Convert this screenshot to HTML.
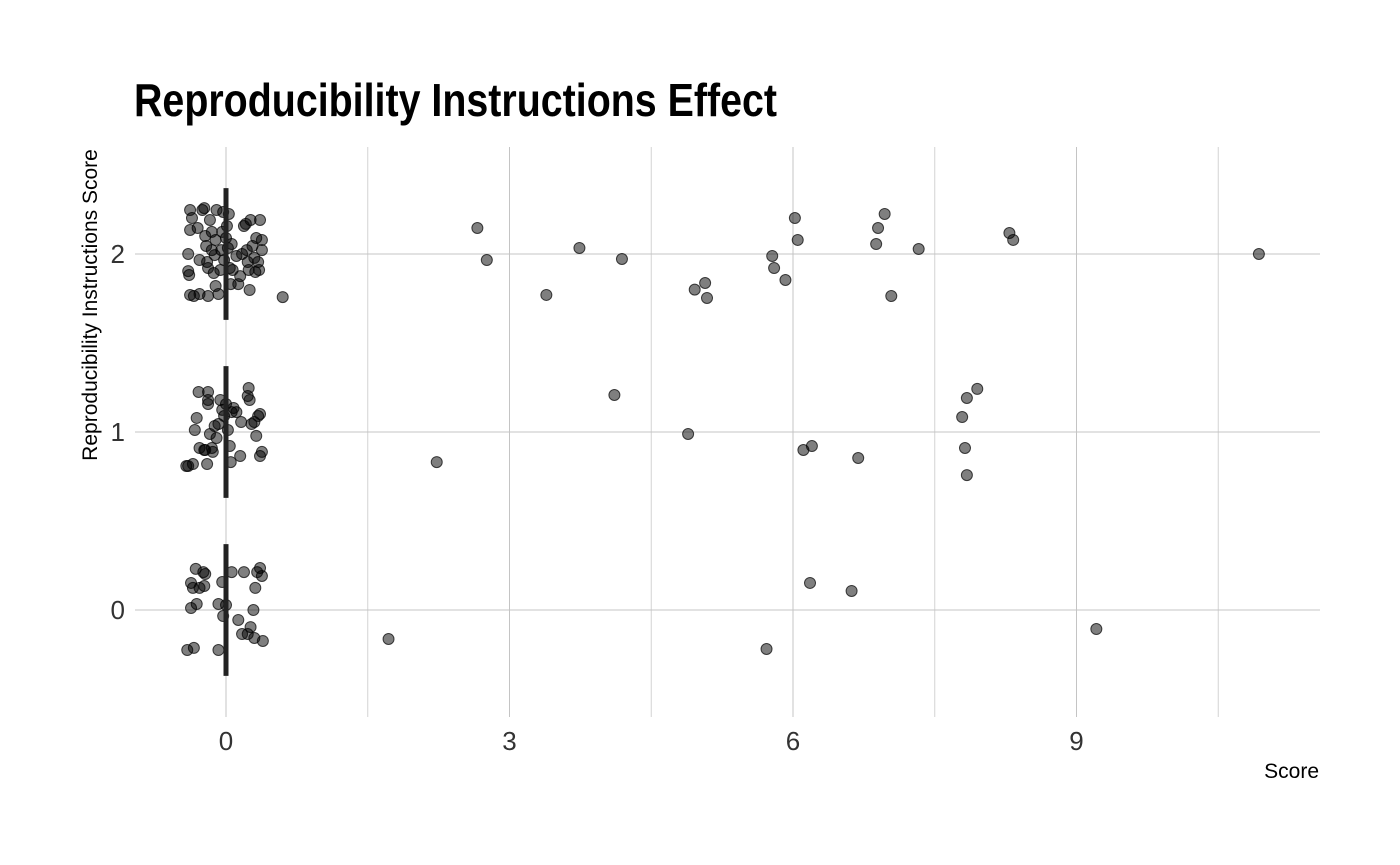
<!DOCTYPE html>
<html><head><meta charset="utf-8"><style>
html,body{margin:0;padding:0;background:#fff;}
svg{display:block;font-family:"Liberation Sans Narrow","Liberation Sans",sans-serif;}
</style></head><body>
<svg id="chart" width="1400" height="865" viewBox="0 0 1400 865">
<text x="134" y="116" font-size="46" font-weight="bold" fill="#000" textLength="643" lengthAdjust="spacingAndGlyphs">Reproducibility Instructions Effect</text>
<g id="grid"></g>
<g id="marks"></g>
<g id="ticks"></g>
<text x="97" y="305" font-size="21" fill="#000" transform="rotate(-90 97 305)" text-anchor="middle">Reproducibility Instructions Score</text>
<text x="1319" y="778" font-size="21" fill="#000" text-anchor="end">Score</text>
</svg>
<script>
const xTicks=[0,3,6,9];
const xMinor=[1.5,4.5,7.5,10.5];
const yTicks=[0,1,2];
const groups=[0,1,2];
const groupMedian=[0,0,0];
// scattered points (score, jittered group value)
const ptX=[2.66,2.76,3.74,4.19,3.39,4.96,5.07,5.09,5.78,5.80,5.92,6.02,6.05,6.97,6.90,6.88,7.33,7.04,8.29,8.33,10.93,0.60,
4.11,4.89,2.23,6.11,6.20,6.69,7.95,7.84,7.79,7.82,7.84,
1.72,5.72,6.18,6.62,9.21];
const ptY=[2.146,1.966,2.034,1.972,1.77,1.80,1.837,1.753,1.989,1.921,1.854,2.202,2.079,2.225,2.146,2.056,2.028,1.764,2.118,2.079,2.0,1.758,
1.208,0.989,0.831,0.899,0.921,0.854,1.242,1.191,1.084,0.910,0.758,
-0.163,-0.219,0.152,0.107,-0.107];
// cluster points near score 0 (jittered)
const c0X=[-0.37,-0.35,-0.32,-0.24,-0.22,-0.28,-0.31,-0.37,-0.23,-0.08,-0.04,0.00,-0.03,0.06,0.13,0.19,0.17,0.23,0.26,0.29,0.31,0.33,0.36,0.38,0.39,0.30,-0.41,-0.08,-0.34];
const c0Y=[0.152,0.124,0.231,0.213,0.202,0.124,0.034,0.011,0.135,0.034,0.157,0.028,-0.034,0.213,-0.056,0.213,-0.135,-0.135,-0.096,0.0,0.124,0.213,0.236,0.191,-0.174,-0.157,-0.225,-0.225,-0.213];
const c1X=[-0.40,-0.35,-0.33,-0.31,-0.29,-0.28,-0.22,-0.20,-0.19,-0.19,-0.17,-0.15,-0.14,-0.12,-0.10,-0.08,-0.06,-0.04,-0.02,0.0,0.02,0.04,0.06,0.08,0.05,0.11,0.15,0.16,0.23,0.25,0.27,0.30,0.32,0.34,0.36,0.38,0.36,0.24,-0.19,-0.23,-0.42];
const c1Y=[0.809,0.820,1.011,1.079,1.225,0.910,0.899,0.820,1.180,1.157,0.989,0.910,0.888,1.034,0.966,1.045,1.180,1.124,1.090,1.157,1.011,0.921,1.112,1.135,0.831,1.112,0.865,1.056,1.202,1.180,1.045,1.056,0.978,1.090,0.865,0.888,1.101,1.247,1.225,0.899,0.809];
const c2X=[-0.38,-0.36,-0.38,-0.40,-0.40,-0.39,-0.38,-0.30,-0.28,-0.25,-0.23,-0.22,-0.21,-0.20,-0.19,-0.19,-0.17,-0.15,-0.13,-0.12,-0.11,-0.11,-0.10,-0.08,-0.06,-0.05,-0.04,-0.03,-0.02,0.0,0.01,0.02,0.03,0.04,0.05,0.06,0.07,0.11,0.13,0.15,0.17,0.19,0.21,0.22,0.23,0.24,0.25,0.26,0.28,0.30,0.31,0.34,0.35,0.36,0.38,0.38,0.32,-0.34,-0.28,-0.15];
const c2Y=[2.247,2.202,2.135,2.0,1.904,1.882,1.770,2.146,1.775,2.247,2.258,2.101,2.045,1.955,1.921,1.764,2.191,2.124,1.893,1.994,2.079,1.820,2.247,1.775,1.910,2.022,2.124,2.236,1.966,2.090,2.157,2.034,2.225,1.921,1.831,2.056,1.910,1.989,1.831,1.876,2.0,2.157,2.169,2.022,1.955,1.910,1.798,2.191,2.045,1.978,1.899,1.955,1.910,2.191,2.079,2.022,2.090,1.764,1.966,2.022];

const NS='http://www.w3.org/2000/svg';
const L=135,R=1320,T=147,B=717;
const xs=v=>226+v*94.5;
const ys=v=>610-v*178;
function mk(tag,attrs,parent){const e=document.createElementNS(NS,tag);for(const k in attrs)e.setAttribute(k,attrs[k]);parent.appendChild(e);return e;}
const grid=document.getElementById('grid'),marks=document.getElementById('marks'),ticks=document.getElementById('ticks');
xMinor.forEach(v=>{const l=mk('line',{x1:xs(v),x2:xs(v),y1:T,y2:B,stroke:'#d4d4d4','stroke-width':1},grid);

});
xTicks.forEach(v=>{const l=mk('line',{x1:xs(v),x2:xs(v),y1:T,y2:B,stroke:'#c4c4c4','stroke-width':1},grid);


const t=mk('text',{x:xs(v),y:750,'font-size':26,fill:'#333','text-anchor':'middle'},ticks);t.textContent=v;

});
yTicks.forEach(v=>{const l=mk('line',{x1:L,x2:R,y1:ys(v),y2:ys(v),stroke:'#c4c4c4','stroke-width':1},grid);


const t=mk('text',{x:125,y:ys(v)+9,'font-size':26,fill:'#333','text-anchor':'end'},ticks);t.textContent=v;

});
function pts(X,Y){X.forEach((x,i)=>{const c=mk('circle',{cx:xs(x),cy:ys(Y[i]),r:5.5,fill:'rgba(0,0,0,0.5)',stroke:'rgba(0,0,0,0.7)','stroke-width':1},marks);

});}
pts(c0X,c0Y);pts(c1X,c1Y);pts(c2X,c2Y);pts(ptX,ptY);
groups.forEach((g,i)=>{const l=mk('line',{x1:xs(groupMedian[i]),x2:xs(groupMedian[i]),y1:ys(g-0.37),y2:ys(g+0.37),stroke:'#222','stroke-width':5},marks);

});
</script>
</body></html>
